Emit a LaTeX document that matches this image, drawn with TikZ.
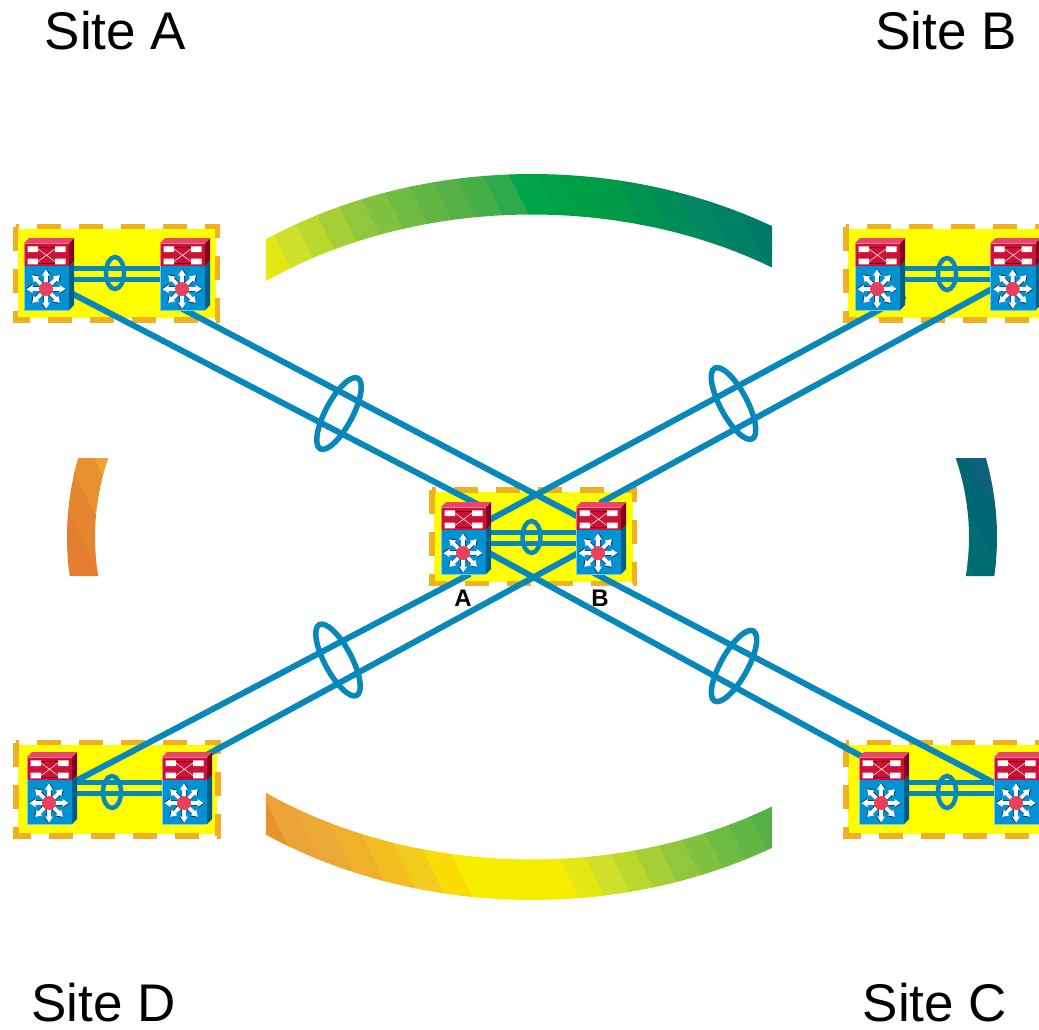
\documentclass[tikz,border=0pt]{standalone}
\usepackage{fontspec}
\setmainfont{Liberation Sans}
\usetikzlibrary{shapes.geometric}
\definecolor{linkblue}{HTML}{0787BA}
\definecolor{dashorange}{HTML}{F0B024}
\definecolor{boxyellow}{HTML}{FFFF00}
\definecolor{redfront}{HTML}{CC1236}
\definecolor{redroof}{HTML}{E8466A}
\definecolor{redside}{HTML}{80001E}
\definecolor{redline}{HTML}{F27A95}
\definecolor{bluefront}{HTML}{0092D2}
\definecolor{blueline}{HTML}{78CCF0}
\definecolor{blueside}{HTML}{005E88}
\definecolor{hubred}{HTML}{E8405F}
\definecolor{arrowshade}{HTML}{0A2A50}
\tikzset{
  link/.style={draw=linkblue,line width=6pt},
  lagline/.style={draw=linkblue,line width=5pt},
  bigring/.style={ellipse,draw=linkblue,line width=5.5pt,minimum width=80pt,minimum height=27pt,inner sep=0pt},
  smallring/.style={ellipse,draw=linkblue,line width=4.5pt,minimum width=18pt,minimum height=32pt,inner sep=0pt},
  sitelabel/.style={font=\fontsize{53}{53}\selectfont,inner sep=0pt},
  devlabel/.style={font=\fontsize{24}{24}\selectfont\bfseries,inner sep=0pt},
  devbody/.style={rectangle,minimum width=50pt,minimum height=72pt,inner sep=0pt},
  dashedge/.style={draw=dashorange,line width=5.5pt,dash pattern=on 24pt off 18pt}
}
\newcommand{\sitebox}[4]{%
  \fill[boxyellow] (#1+2,#2+2) rectangle (#3-1.5,#4-2);
  \draw[dashedge] (#1,#2) -- (#1,#4) -- (#3,#4) -- (#3,#2) -- cycle;
}
\newcommand{\devports}[3]{%
  \coordinate (#1u) at (#2+25,#3+30);
  \coordinate (#1l) at (#2+25,#3+41);
}
\newcommand{\netdevice}[3]{%
  \node[devbody] (#1) at (#2+25,#3+36) {};
  \begin{scope}[shift={(#2,#3)}]
    \fill[redside] (45,5) -- (50,0) -- (50,23) -- (45,28) -- cycle;
    \fill[blueside] (45,28) -- (50,23) -- (50,67) -- (45,72) -- cycle;
    \fill[redroof] (0,5) -- (5,0) -- (50,0) -- (45,5) -- cycle;
    \fill[redfront] (0,5) rectangle (45,28);
    \draw[redline,line width=.8pt] (0,28) -- (0,5) -- (45,5);
    \draw[white,line width=.5pt] (14,11) -- (31,23.5) (14,23.5) -- (31,11);
    \draw[redside,line width=.4pt] (14,9.5) -- (31,9.5) (14,25) -- (31,25);
    \fill[white] (3.5,8.3) rectangle (14,14) (31,8.3) rectangle (41.5,14)
                 (3.5,20.7) rectangle (14,26.3) (31,20.7) rectangle (41.5,26.3);
    \fill[bluefront] (0,28) rectangle (45,72);
    \draw[blueline,line width=.8pt] (0,28) -- (0,72) -- (45,72);
    \begin{scope}[shift={(22,51)}]
      \foreach \a in {0,45,...,315}{
        \begin{scope}[rotate=\a]
          \fill[arrowshade,shift={(.5,.7)}] (5,-1.9) -- (13.5,-1.9) -- (13.5,-4) -- (19.5,0) -- (13.5,4) -- (13.5,1.9) -- (5,1.9) -- cycle;
        \end{scope}
      }
      \foreach \a in {0,45,...,315}{
        \begin{scope}[rotate=\a]
          \fill[white] (5,-1.9) -- (13.5,-1.9) -- (13.5,-4) -- (19.5,0) -- (13.5,4) -- (13.5,1.9) -- (5,1.9) -- cycle;
        \end{scope}
      }
      \fill[hubred] (0,0) circle[radius=7pt];
    \end{scope}
  \end{scope}
}
\newcommand{\bands}{%
  \foreach \ta/\tb/\c in {
    -260/-214.5/E37A30,-214.5/-188/E57E30,-188/-161.5/E5852F,-161.5/-135/E8922F,
    -135/-108.5/EBA236,-108.5/-82/ECA835,-82/-55.5/F0B02A,-55.5/-29/F2BE22,
    -29/-2.5/F3CB1C,-2.5/24/F8DC04,24/130/F6EE00,130/156.5/E4E812,
    156.5/183/CEE02A,183/209.5/BAD92C,209.5/236/A5CF35,236/262.5/90C73B,
    262.5/289/80C140,289/315.5/70BC42,315.5/342/62B644,342/368.5/55B146,
    368.5/395/46AE47,395/421.5/2DAA4A,421.5/448/00A54A,448/474.5/00A146,
    474.5/501/009E44,501/527.5/009A48,527.5/554/009250,554/580.5/008C58,
    580.5/607/008660,607/633.5/008064,633.5/660/007A68,660/686.5/00746C,
    686.5/713/006C70,713/739.5/006674,739.5/800/0F607D}{
    \definecolor{bandc}{HTML}{\c}
    \fill[bandc] ({\ta+50},100) -- ({\tb+50.6},100) -- ({\tb+475.6},950) -- ({\ta+475},950) -- cycle;
  }
}
\newcommand{\ringpart}[4]{%
  \begin{scope}
    \clip plot[domain=#1:#2,samples=50] ({532+465*cos(\x)},{537-363*sin(\x)})
       -- plot[domain=#3:#4,samples=50] ({532+437*cos(\x)},{537-322.5*sin(\x)}) -- cycle;
    \bands
  \end{scope}
}
\begin{document}
\begin{tikzpicture}[x=1pt,y=-1pt]
\useasboundingbox (0,0) rectangle (1039,1030);
\clip (0,0) rectangle (1039,1030);
% coloured ring, one linear banded gradient seen through four windows
\ringpart{124.9}{58.9}{56.7}{127.5}
\ringpart{-124.9}{-58.9}{-56.7}{-127.5}
\ringpart{167.43}{186.17}{186.95}{165.82}
\ringpart{12.57}{-6.17}{-6.95}{14.18}
% site areas
\sitebox{15.5}{226.5}{217.5}{320}
\sitebox{846}{226.5}{1048}{320}
\sitebox{432}{490}{634.5}{583.5}
\sitebox{16}{742.5}{218}{836}
\sitebox{846}{742.5}{1048}{836}
% ports
\devports{a1}{24}{238}\devports{a2}{160}{238}
\devports{b1}{855}{238}\devports{b2}{990.7}{238}
\devports{m1}{441}{502}\devports{m2}{576}{502}
\devports{d1}{27}{752}\devports{d2}{162}{752}
\devports{c1}{859}{752}\devports{c2}{994}{752}
% link ends
\coordinate (la1) at (70,292.5);   \coordinate (lm1a) at (480,505.5);
\coordinate (la2) at (175,305);    \coordinate (lm2a) at (590,523);
\coordinate (lb1) at (905,296);    \coordinate (lm1b) at (480,525);
\coordinate (lb2) at (1000,284.5); \coordinate (lm2b) at (600,503);
\coordinate (ld1) at (70,784);     \coordinate (lm1d) at (470,574);
\coordinate (ld2) at (190,764);    \coordinate (lm2d) at (580,552);
\coordinate (lc1) at (870,761);    \coordinate (lm1c) at (480,548);
\coordinate (lc2) at (1000,786);   \coordinate (lm2c) at (590,571);
% short links
\foreach \p/\q in {a1u/a2u,a1l/a2l,b1u/b2u,b1l/b2l,m1u/m2u,m1l/m2l,d1u/d2u,d1l/d2l,c1u/c2u,c1l/c2l}
  \draw[lagline] (\p) -- (\q);
% long links
\foreach \p/\q in {la1/lm1a,la2/lm2a,lb1/lm1b,lb2/lm2b,ld1/lm1d,ld2/lm2d,lc1/lm1c,lc2/lm2c}
  \draw[link] (\p) -- (\q);
% rings
\node[bigring,rotate=62] (ringa) at (339,413.5) {};
\node[bigring,rotate=-62] (ringb) at (733.5,403.5) {};
\node[bigring,rotate=-62] (ringd) at (338,660) {};
\node[bigring,rotate=61] (ringc) at (734,666) {};
\node[smallring] (sa) at (115,273) {};
\node[smallring] (sb) at (947,274) {};
\node[smallring] (sm) at (531.5,537) {};
\node[smallring] (sd) at (112,792) {};
\node[smallring] (sc) at (947,792) {};
% devices
\netdevice{a1}{24}{238}\netdevice{a2}{160}{238}
\netdevice{b1}{855}{238}\netdevice{b2}{990.7}{238}
\netdevice{m1}{441}{502}\netdevice{m2}{576}{502}
\netdevice{d1}{27}{752}\netdevice{d2}{162}{752}
\netdevice{c1}{859}{752}\netdevice{c2}{994}{752}
% labels
\node[sitelabel] (ta) at (115.5,31) {Site A};
\node[sitelabel] (tb) at (946,31) {Site B};
\node[sitelabel] (td) at (103.5,1003) {Site D};
\node[sitelabel] (tc) at (935,1003) {Site C};
\node[devlabel] (la) at (463,598) {A};
\node[devlabel] (lb) at (600,598) {B};
\end{tikzpicture}
\end{document}
